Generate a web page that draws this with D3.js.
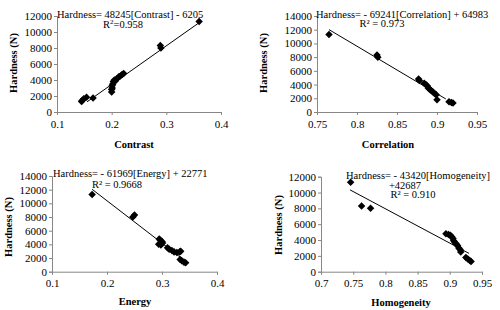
<!DOCTYPE html>
<html>
  <head>
    <meta charset="utf-8" />
    <script src="https://d3js.org/d3.v7.min.js"></script>
    <style>
      body {
        margin: 0;
        background: #fff;
      }
      .axis path,
      .axis line {
        stroke: #878787;
      }
    </style>
  </head>
  <body>
    <svg id="chart" width="500" height="310" font-family="'Liberation Serif', 'DejaVu Serif', serif"></svg>

    <script>
      const FONT = "'Liberation Serif', 'DejaVu Serif', serif";

      // contrast panel
      const contrastX = [0.36, 0.289, 0.29, 0.222, 0.219, 0.216, 0.213, 0.21, 0.207, 0.205,
        0.203, 0.202, 0.201, 0.201, 0.2, 0.2, 0.166, 0.154, 0.149, 0.146, 0.145];
      const contrastY = [11300, 8300, 8000, 4800, 4700, 4500, 4400, 4200, 3900, 4000,
        3800, 3500, 3300, 3000, 2800, 2500, 1750, 1850, 1650, 1450, 1300];
      const contrastTicksX = [0.1, 0.2, 0.3, 0.4];
      const contrastTicksY = [0, 2000, 4000, 6000, 8000, 10000, 12000];
      const contrastFit = [0.155, 0.36]; // x range of trend line
      const contrastCoef = [48245, -6205];

      // correlation panel
      const correlationX = [0.765, 0.825, 0.826, 0.877, 0.878, 0.884, 0.886, 0.888, 0.889,
        0.891, 0.893, 0.895, 0.897, 0.899, 0.9, 0.915, 0.918, 0.92];
      const correlationY = [11300, 8300, 8000, 4800, 4600, 4200, 4000, 3800, 3500,
        3300, 3100, 2900, 2700, 2500, 1800, 1500, 1400, 1300];
      const correlationTicksX = [0.75, 0.8, 0.85, 0.9, 0.95];
      const correlationTicksY = [0, 2000, 4000, 6000, 8000, 10000, 12000, 14000];
      const correlationFit = [0.765, 0.911];
      const correlationCoef = [-69241, 64983];

      // energy panel
      const energyX = [0.173, 0.247, 0.25, 0.295, 0.297, 0.3, 0.294, 0.298, 0.301, 0.31,
        0.313, 0.318, 0.322, 0.327, 0.332, 0.334, 0.333, 0.336, 0.34, 0.343];
      const energyY = [11300, 8000, 8300, 4800, 4600, 4400, 4000, 3900, 4200, 3500,
        3300, 3100, 2900, 2800, 2900, 3000, 1800, 1600, 1400, 1300];
      const energyTicksX = [0.1, 0.2, 0.3, 0.4];
      const energyTicksY = [0, 2000, 4000, 6000, 8000, 10000, 12000, 14000];
      const energyFit = [0.173, 0.34];
      const energyCoef = [-61969, 22771];

      // homogeneity panel
      const homogeneityX = [0.746, 0.763, 0.777, 0.894, 0.898, 0.901, 0.903, 0.905, 0.906,
        0.908, 0.91, 0.912, 0.914, 0.916, 0.917, 0.925, 0.928, 0.931, 0.933];
      const homogeneityY = [11300, 8300, 8000, 4800, 4700, 4600, 4400, 4200, 3900,
        3700, 3500, 3300, 3000, 2800, 2500, 1800, 1600, 1400, 1300];
      const homogeneityTicksX = [0.7, 0.75, 0.8, 0.85, 0.9, 0.95];
      const homogeneityTicksY = [0, 2000, 4000, 6000, 8000, 10000, 12000];
      const homogeneityFit = [0.745, 0.93];
      const homogeneityCoef = [-43420, 42687];

      const svg = d3.select("#chart");

      const panels = [
        {
          xs: contrastX, ys: contrastY, tx: contrastTicksX, ty: contrastTicksY,
          fit: contrastFit, coef: contrastCoef, fmt: d3.format(".1f"),
          left: 57, right: 221, top: 16, bottom: 112,
          xTitle: "Contrast", xTitlePos: [134, 147.5], yTitlePos: [13, 63],
          eq: [{ t: "Hardness= 48245[Contrast] - 6205", x: 57, y: 17.5, a: "start" },
               { t: "R", sup: "2", rest: "=0.958", x: 123, y: 28, a: "middle" }]
        },
        {
          xs: correlationX, ys: correlationY, tx: correlationTicksX, ty: correlationTicksY,
          fit: correlationFit, coef: correlationCoef, fmt: d3.format(".2~f"),
          left: 317, right: 477, top: 16, bottom: 112,
          xTitle: "Correlation", xTitlePos: [388, 147.5], yTitlePos: [263, 63],
          eq: [{ t: "Hardness= - 69241[Correlation] + 64983", x: 316, y: 17.5, a: "start" },
               { t: "R² = 0.973", x: 382, y: 27, a: "middle" }]
        },
        {
          xs: energyX, ys: energyY, tx: energyTicksX, ty: energyTicksY,
          fit: energyFit, coef: energyCoef, fmt: d3.format(".1f"),
          left: 52, right: 217, top: 176, bottom: 271.7,
          xTitle: "Energy", xTitlePos: [135, 305], yTitlePos: [8, 227],
          eq: [{ t: "Hardness= - 61969[Energy] + 22771", x: 53, y: 176.5, a: "start" },
               { t: "R² = 0.9668", x: 117, y: 187.5, a: "middle" }]
        },
        {
          xs: homogeneityX, ys: homogeneityY, tx: homogeneityTicksX, ty: homogeneityTicksY,
          fit: homogeneityFit, coef: homogeneityCoef, fmt: d3.format(".2~f"),
          left: 321, right: 482, top: 176.7, bottom: 271.7,
          xTitle: "Homogeneity", xTitlePos: [401, 306], yTitlePos: [278, 225],
          eq: [{ t: "Hardness= - 43420[Homogeneity]", x: 418, y: 179, a: "middle" },
               { t: "+42687", x: 405, y: 188.5, a: "middle" },
               { t: "R² = 0.910", x: 413, y: 198, a: "middle" }]
        }
      ];

      panels.forEach(drawPanel);

      function drawPanel(p) {
        const x = d3.scaleLinear()
          .domain([p.tx[0], p.tx[p.tx.length - 1]])
          .range([p.left, p.right]);
        const y = d3.scaleLinear()
          .domain([p.ty[0], p.ty[p.ty.length - 1]])
          .range([p.bottom, p.top]);

        const g = svg.append("g");

        g.append("g")
          .attr("class", "axis")
          .attr("transform", `translate(0, ${p.bottom})`)
          .call(d3.axisBottom(x).tickValues(p.tx).tickFormat(p.fmt).tickSizeOuter(0).tickSize(3).tickPadding(5));

        g.append("g")
          .attr("class", "axis")
          .attr("transform", `translate(${p.left}, 0)`)
          .call(d3.axisLeft(y).tickValues(p.ty).tickFormat(d3.format("d")).tickSizeOuter(0).tickSize(3).tickPadding(2));

        g.selectAll(".axis")
          .attr("font-family", FONT)
          .attr("font-size", 11);
        g.selectAll(".axis text").attr("fill", "#000");

        // trend line
        const fitPts = p.fit.map((v) => [v, p.coef[0] * v + p.coef[1]]);
        g.append("line")
          .attr("x1", x(fitPts[0][0]))
          .attr("y1", y(fitPts[0][1]))
          .attr("x2", x(fitPts[1][0]))
          .attr("y2", y(fitPts[1][1]))
          .attr("stroke", "#000")
          .attr("stroke-width", 1);

        // points
        const sym = d3.symbol().type(d3.symbolDiamond2).size(36);
        g.selectAll(".pt")
          .data(p.xs.map((v, i) => [v, p.ys[i]]))
          .enter()
          .append("path")
          .attr("class", "pt")
          .attr("d", sym)
          .attr("transform", (d) => `translate(${x(d[0])}, ${y(d[1])})`)
          .attr("fill", "#000");

        g.append("text")
          .attr("font-family", FONT)
          .attr("font-size", 10.5)
          .attr("font-weight", "bold")
          .attr("x", p.xTitlePos[0])
          .attr("y", p.xTitlePos[1])
          .attr("text-anchor", "middle")
          .text(p.xTitle);

        g.append("text")
          .attr("font-family", FONT)
          .attr("font-size", 10.5)
          .attr("font-weight", "bold")
          .attr("transform", `translate(${p.yTitlePos[0] + 4}, ${p.yTitlePos[1]}) rotate(-90)`)
          .attr("text-anchor", "middle")
          .text("Hardness (N)");

        p.eq.forEach((e) => {
          const t = g.append("text")
            .attr("font-family", FONT)
            .attr("font-size", 10.5)
            .attr("x", e.x)
            .attr("y", e.y)
            .attr("text-anchor", e.a);
          if (e.sup) {
            t.append("tspan").text(e.t);
            t.append("tspan").attr("dy", -4).attr("font-size", 7).text(e.sup);
            t.append("tspan").attr("dy", 4).text(e.rest);
          } else {
            t.text(e.t);
          }
        });
      }
    </script>
  </body>
</html>
